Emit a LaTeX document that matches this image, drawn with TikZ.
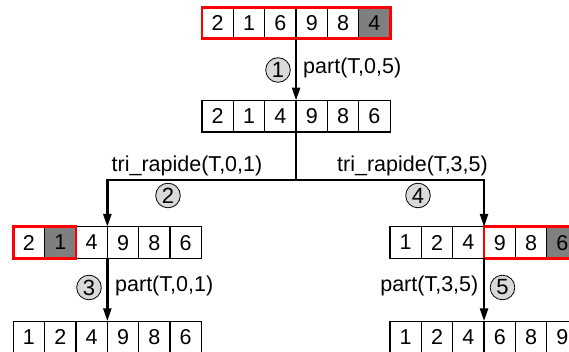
\documentclass[tikz,border=0pt]{standalone}
\usepackage{fontspec}
\setmainfont{Liberation Sans}
\usetikzlibrary{arrows.meta}
\definecolor{pivotgray}{HTML}{7F7F7F}
\definecolor{stepgray}{HTML}{D9D9D9}
\definecolor{zonered}{HTML}{FF0000}
\begin{document}
\begin{tikzpicture}[x=1pt,y=-1pt,
  cell/.style={draw=black,line width=1.2pt,minimum width=31.35pt,minimum height=31.5pt,
    inner sep=0pt,outer sep=0pt,font=\fontsize{21.5}{25}\selectfont,anchor=center},
  pivot/.style={cell,fill=pivotgray},
  zone/.style={draw=zonered,line width=2.8pt},
  flow/.style={line width=2.5pt,-{Triangle[length=13pt,width=8pt]}},
  trunk/.style={line width=2.5pt},
  stepmark/.style={circle,draw=black,line width=0.8pt,fill=stepgray,minimum size=24.6pt,
    inner sep=0pt,font=\fontsize{22}{24}\selectfont},
  lbl/.style={font=\fontsize{21.5}{25}\selectfont,inner sep=0pt}]
\useasboundingbox (0,0) rectangle (569,352);
\clip (0,0) rectangle (569,352);
\def\cw{31.35}
% top array
\foreach \v [count=\i] in {2,1,6,9,8,4}
  \node[cell] (a\i) at ({202+\cw*(\i-0.5)},23) {\v};
\node[pivot] at (a6) {4};
% after first partition
\foreach \v [count=\i] in {2,1,4,9,8,6}
  \node[cell] (b\i) at ({202+\cw*(\i-0.5)},116.3) {\v};
% left branch
\foreach \v [count=\i] in {2,1,4,9,8,6}
  \node[cell] (l\i) at ({13.3+\cw*(\i-0.5)},242.6) {\v};
\node[pivot] at (l2) {1};
\foreach \v [count=\i] in {1,2,4,9,8,6}
  \node[cell] (ll\i) at ({13.3+\cw*(\i-0.5)},337) {\v};
% right branch
\foreach \v [count=\i] in {1,2,4,9,8,6}
  \node[cell] (r\i) at ({390+\cw*(\i-0.5)},242.6) {\v};
\node[pivot] at (r6) {6};
\foreach \v [count=\i] in {1,2,4,6,8,9}
  \node[cell] (rr\i) at ({390+\cw*(\i-0.5)},337) {\v};
% active zones
\draw[zone] (a1.north west) rectangle (a6.south east);
\draw[zone] (l1.north west) rectangle (l2.south east);
\draw[zone] (r4.north west) rectangle (r6.south east);
% connectors
\draw[flow] (a3.south east) -- (b3.north east);
\coordinate (fork) at (b3.south east |- 0,180);
\draw[trunk] (b3.south east) -- (fork);
\draw[flow] (fork) -| (l3.north east);
\draw[flow] (fork) -| (r3.north east);
\draw[flow] (l3.south east) -- (ll3.north east);
\draw[flow] (r3.south east) -- (rr3.north east);
% step labels
\node[stepmark] (s1) at (278,70) {1};
\node[lbl,anchor=west] (p1) at (303,68) {part(T,0,5)};
\node[lbl,anchor=base] (t1) at (187,172) {tri\_rapide(T,0,1)};
\node[lbl,anchor=base] (t2) at (412.5,172) {tri\_rapide(T,3,5)};
\node[stepmark] (s2) at (168,195.5) {2};
\node[stepmark] (s4) at (418,195.5) {4};
\node[stepmark] (s3) at (89,287.5) {3};
\node[lbl,anchor=west] (p3) at (115,286) {part(T,0,1)};
\node[stepmark] (s5) at (502.5,287.5) {5};
\node[lbl,anchor=east] (p5) at (478.5,286) {part(T,3,5)};
\end{tikzpicture}
\end{document}
